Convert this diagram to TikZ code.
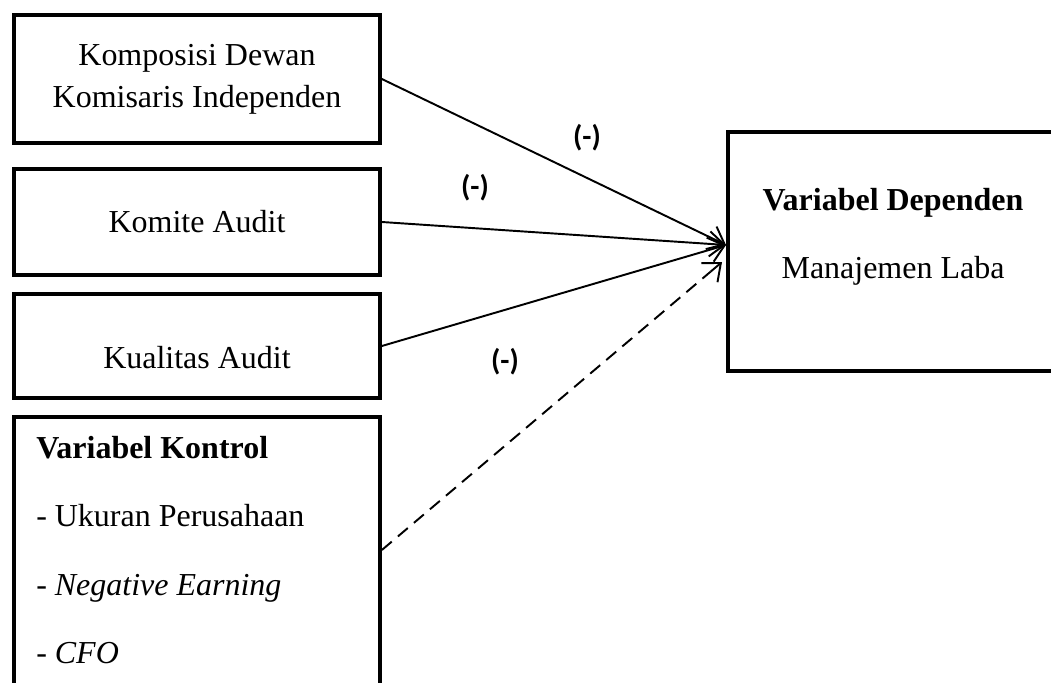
\documentclass[tikz,border=0pt]{standalone}
\usepackage{fontspec}
\setmainfont{Liberation Serif}
\newfontfamily\signfont{Carlito}
\usetikzlibrary{arrows.meta,calc}

\begin{document}
\begin{tikzpicture}[
	varbox/.style={draw=black,line width=2.4pt,rectangle,minimum width=7.31cm,inner sep=0pt,align=center,font=\fontsize{18.2}{24}\selectfont},
	link/.style={black,line width=1.1pt,-{Straight Barb[length=3mm,width=5mm]}},
	ctrl/.style={black,line width=1.1pt,dash pattern=on 0.26cm off 0.16cm},
	sign/.style={font=\signfont\bfseries\fontsize{17}{20}\selectfont}
	]
	\useasboundingbox (0,0) rectangle (21.02,13.64);

	% independent variables
	\node[varbox,minimum height=2.55cm] (kdk) at (3.94,12.06) {Komposisi Dewan\\Komisaris Independen};
	\node[varbox,minimum height=2.11cm] (ka) at (3.94,9.2) {Komite Audit};
	\node[varbox,minimum height=2.07cm,text height=0.88cm,text depth=0cm] (kua) at (3.94,6.72) {Kualitas Audit};

	% control variables
	\node[varbox,anchor=north,align=flush left,text width=6.43cm,inner xsep=0.44cm,inner ysep=0.38cm,
		font=\fontsize{18.2}{39}\selectfont] (kontrol) at (3.94,5.34)
		{\textbf{Variabel Kontrol}\\- Ukuran Perusahaan\\- \textit{Negative Earning}\\- \textit{CFO}\rule[-1cm]{0pt}{1cm}};

	% dependent variable
	\node[varbox,minimum width=6.6cm,minimum height=4.77cm,text height=1.16cm,text depth=0.1cm,
		font=\fontsize{18.2}{38.6}\selectfont] (dep) at (17.86,8.61)
		{\textbf{Variabel Dependen}\\Manajemen Laba};

	\coordinate (hit) at (14.52,8.74);
	\coordinate (hitb) at (14.44,8.4);
	\coordinate (kout) at ([yshift=-2.7cm]kontrol.north east);
	\coordinate (hitc) at ($(hitb)!0.3cm!(kout)$);

	\draw[link] (kdk.east) -- (hit);
	\draw[link] (ka.east) -- (hit);
	\draw[link] (kua.east) -- (hit);
	\draw[ctrl] (kout) -- (hitc);
	\draw[link] (hitc) -- (hitb);

	\node[sign] (s1) at (11.74,10.88) {(-)};
	\node[sign] (s2) at (9.5,9.88) {(-)};
	\node[sign] (s3) at (10.1,6.4) {(-)};
\end{tikzpicture}
\end{document}
